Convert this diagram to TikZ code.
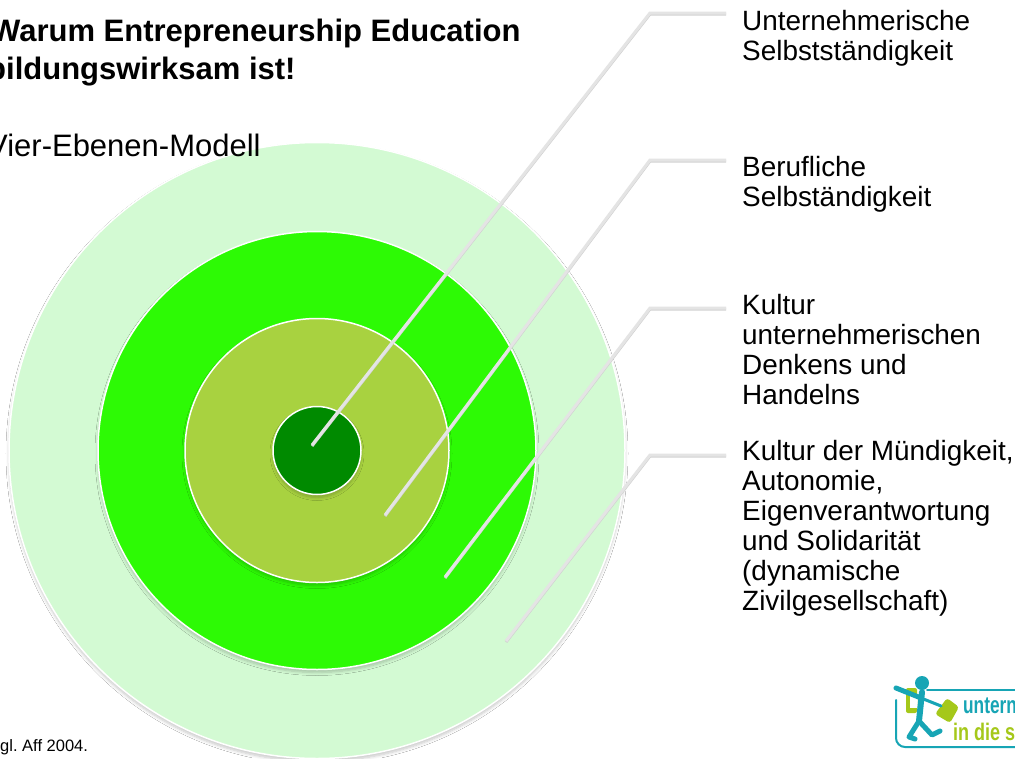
\documentclass[tikz,border=0pt]{standalone}
\usepackage{fontspec}
\setmainfont{Liberation Sans}
\usetikzlibrary{shadows.blur}
\definecolor{ringA}{HTML}{D3FAD3}
\definecolor{ringB}{HTML}{2DFA05}
\definecolor{ringC}{HTML}{A8D240}
\definecolor{ringD}{HTML}{008A00}
\definecolor{leader}{HTML}{E4E4E4}
\definecolor{logoT}{HTML}{17A5B5}
\definecolor{logoL}{HTML}{A5C81A}
\tikzset{
  x=1pt,y=-1pt,
  ring/.style={circle,draw=white,line width=1.5pt,inner sep=0pt,anchor=center},
  ringshadow/.style={blur shadow={shadow blur steps=6,shadow blur radius=3pt,shadow xshift=0pt,shadow yshift=-3pt,shadow opacity=22}},
  leaderline/.style={draw=leader,line width=3pt,line join=miter},
  leadershadow/.style={draw=black!18,line width=3pt,line join=miter,transform canvas={yshift=-1pt}},
  lab/.style={anchor=north west,align=left,inner sep=0pt,font=\fontsize{27.9}{30}\selectfont},
  titletext/.style={anchor=north west,align=left,inner sep=0pt,font=\fontsize{31}{37.5}\selectfont\bfseries},
  logoline/.style={draw=logoT,line width=6pt,line cap=round,line join=round},
  logobox/.style={draw=logoT,line width=2pt,line cap=round,rounded corners=9pt}
}
\begin{document}
\begin{tikzpicture}
\useasboundingbox (0,0) rectangle (1015,758);
\clip (0,0) rectangle (1015,758);
\fill[white] (0,0) rectangle (1015,758);
% circles
\node[ring,ringshadow,fill=ringA,minimum size=616pt] (r1) at (317,450.5) {};
\node[ring,ringshadow,fill=ringB,minimum size=438pt] (r2) at (317,450.5) {};
\node[ring,ringshadow,fill=ringC,minimum size=264pt] (r3) at (317,450.5) {};
\node[ring,ringshadow,fill=ringD,minimum size=88pt] (r4) at (317,450.5) {};
% text
\node[titletext] (title) at (-9,19) {Warum Entrepreneurship Education\\\hspace*{-4pt}bildungswirksam ist!};
\node[anchor=north west,inner sep=0pt,font=\fontsize{31}{36}\selectfont] (model) at (-13,133.5) {Vier-Ebenen-Modell};
\node[lab] (l1) at (742,9.6) {Unternehmerische\\Selbstständigkeit};
\node[lab] (l2) at (742,155.6) {Berufliche\\Selbständigkeit};
\node[lab] (l3) at (742,293.6) {Kultur\\unternehmerischen\\Denkens und\\Handelns};
\node[lab] (l4) at (742,440) {Kultur der Mündigkeit,\\Autonomie,\\Eigenverantwortung\\und Solidarität\\(dynamische\\Zivilgesellschaft)};
\node[anchor=north west,inner sep=0pt,font=\fontsize{16.5}{18}\selectfont] (src) at (-8.25,739.5) {vgl.\ Aff 2004.};
% leader lines
\coordinate (a1) at (312,445); \coordinate (b1) at (650,13);  \coordinate (c1) at (726,13);
\coordinate (a2) at (385,515); \coordinate (b2) at (650,160); \coordinate (c2) at (726,160);
\coordinate (a3) at (445,577); \coordinate (b3) at (650,308); \coordinate (c3) at (726,308);
\coordinate (a4) at (506,641); \coordinate (b4) at (650,455); \coordinate (c4) at (726,455);
\foreach \i in {1,2,3,4}{
  \draw[leadershadow] (a\i) -- (b\i) -- (c\i);
  \draw[leaderline] (a\i) -- (b\i) -- (c\i);
}
% logo
\draw[logobox] (896,700) -- (896,747) -- (1030,747);
\draw[logobox] (927,690) -- (1030,690);
\fill[logoL,rounded corners=2pt] (906,688) rectangle (917,713);
\fill[white] (910,696) rectangle (917,708);
\fill[logoL,rounded corners=3pt] (947,698) -- (959,707) -- (950,723) -- (935,714) -- cycle;
\fill[logoT] (922,683) circle[radius=7];
\draw[logoline] (922,692) -- (919,721);
\draw[logoline,line width=5pt] (896,688) -- (921,698);
\draw[logoline,line width=3pt] (921,698) -- (941,706);
\draw[logoline,line width=5pt] (919,721) -- (909,737) -- (915,739);
\draw[logoline,line width=5pt] (919,721) -- (932,735) -- (940,731);
\node[anchor=base west,inner sep=0pt,text=logoT,font=\fontsize{24}{24}\selectfont\bfseries,xscale=.72] (logoa) at (963,713) {untern};
\node[anchor=base west,inner sep=0pt,text=logoL,font=\fontsize{24}{24}\selectfont\bfseries,xscale=.75] (logob) at (953,740) {in die s};
\end{tikzpicture}
\end{document}
